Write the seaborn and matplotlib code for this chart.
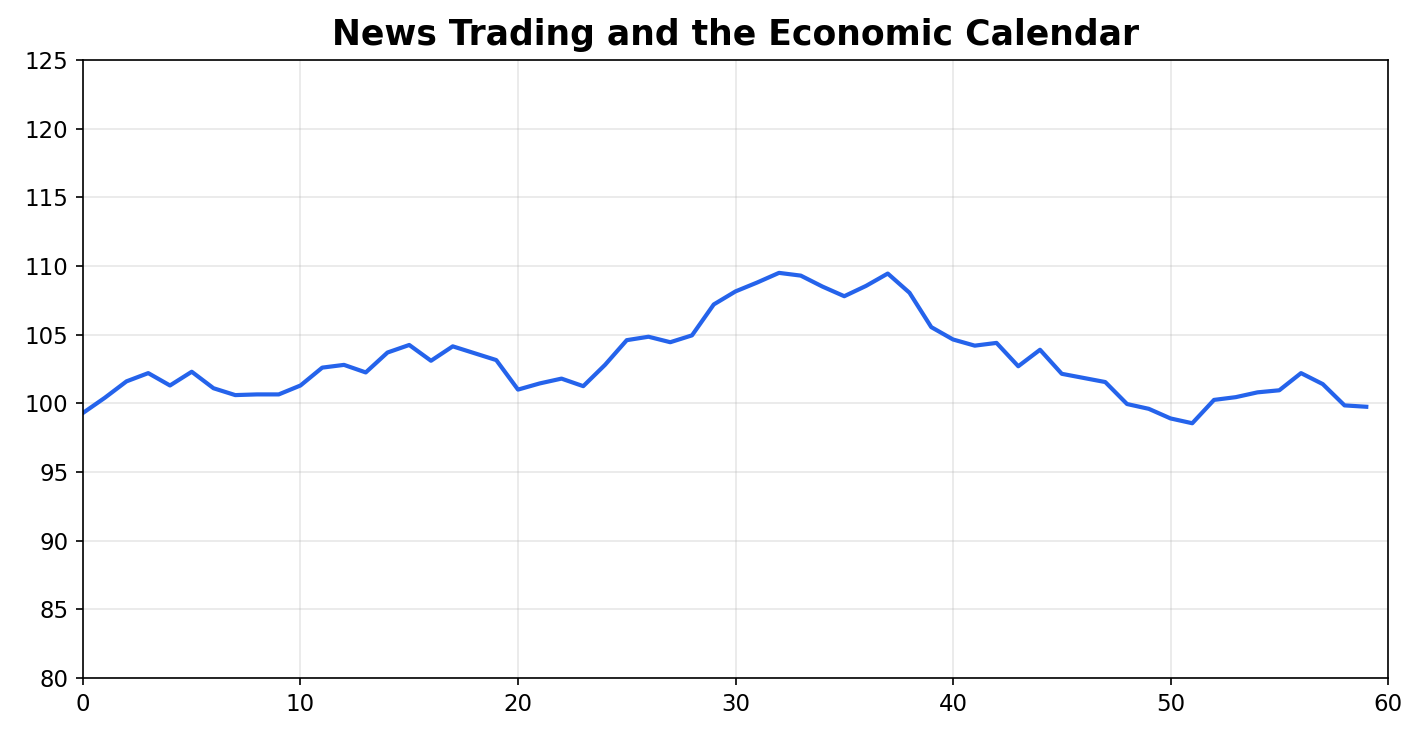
import matplotlib
matplotlib.use("Agg")
import matplotlib.pyplot as plt
import numpy as np
import pandas as pd
import seaborn as sns

# Datos
dias = list(range(60))
precio = [
    99.3, 100.4, 101.6, 102.2, 101.3, 102.3, 101.1, 100.6, 100.65, 100.65,
    101.3, 102.6, 102.8, 102.25, 103.7, 104.25, 103.1, 104.15, 103.65, 103.15,
    101.0, 101.45, 101.8, 101.25, 102.8, 104.6, 104.85, 104.45, 104.95, 107.2,
    108.15, 108.8, 109.5, 109.3, 108.5, 107.8, 108.55, 109.45, 108.05, 105.55,
    104.65, 104.2, 104.4, 102.7, 103.9, 102.15, 101.85, 101.55, 99.95, 99.6,
    98.9, 98.55, 100.25, 100.45, 100.8, 100.95, 102.2, 101.4, 99.85, 99.75,
]

df = pd.DataFrame({"t": dias, "precio": precio})

fig, ax = plt.subplots(figsize=(1421 / 150, 738 / 150), dpi=150)
fig.subplots_adjust(left=0.0584, right=0.9768, top=0.9187, bottom=0.0813)

sns.lineplot(data=df, x="t", y="precio", color="#2563eb", linewidth=2, ax=ax)

ax.set_title("News Trading and the Economic Calendar", fontsize=16.6, fontweight="bold", pad=7)
ax.set_xlim(0, 60)
ax.set_ylim(80, 125)
ax.set_xlabel("")
ax.set_ylabel("")
ax.grid(True, alpha=0.3)
ax.tick_params(labelsize=11)

fig.savefig("out.png", dpi=150)
